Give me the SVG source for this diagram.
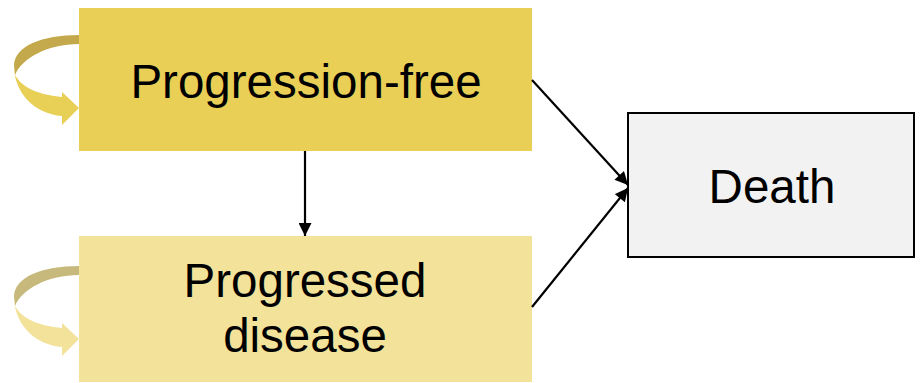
<svg xmlns="http://www.w3.org/2000/svg" width="922" height="383" viewBox="0 0 922 383">
<defs>
<style>
.lbl{font-family:"Liberation Sans",Arial,sans-serif;font-size:47.5px;fill:#000;text-anchor:middle}
.edge{stroke:#000;stroke-width:2.2;fill:none}
</style>
<marker id="ah" viewBox="0 0 10 10" refX="10" refY="5" markerWidth="14" markerHeight="13" markerUnits="userSpaceOnUse" orient="auto">
<path d="M0,0 L10,5 L0,10 Z" fill="#000"/>
</marker>
</defs>
<rect width="922" height="383" fill="#fff"/>
<g id="loop-pf">
<path d="M79,35 C42,35 14,46 14,66 L15,75 C22,58 48,44 79,44 Z" fill="#c3a94b"/>
<path d="M14,66 C14,92 34,114 62,116 L62,125 L79,108 L62,92 L62,97 C40,95 22,88 15,75 Z" fill="#e8cf55"/>
</g>
<g id="loop-pd" transform="translate(0,231)">
<path d="M79,35 C42,35 14,46 14,66 L15,75 C22,58 48,44 79,44 Z" fill="#c7b97b"/>
<path d="M14,66 C14,92 34,114 62,116 L62,125 L79,108 L62,92 L62,97 C40,95 22,88 15,75 Z" fill="#f2e29a"/>
</g>
<g id="node-pf">
<rect x="79" y="8" width="453" height="143" fill="#e9cf55"/>
<text class="lbl" x="306" y="98">Progression-free</text>
</g>
<g id="node-pd">
<rect x="79" y="236" width="453" height="146" fill="#f3e299"/>
<text class="lbl" x="305" y="297">Progressed</text>
<text class="lbl" x="305" y="352">disease</text>
</g>
<g id="node-death">
<rect x="628" y="113" width="286" height="144" fill="#f2f2f2" stroke="#000" stroke-width="2"/>
<text class="lbl" x="772" y="203">Death</text>
</g>
<g id="connectors">
<line class="edge" x1="305" y1="151" x2="305" y2="236" marker-end="url(#ah)"/>
<line class="edge" x1="532" y1="80" x2="628" y2="185" marker-end="url(#ah)"/>
<line class="edge" x1="532" y1="307" x2="628" y2="188" marker-end="url(#ah)"/>
</g>
</svg>
